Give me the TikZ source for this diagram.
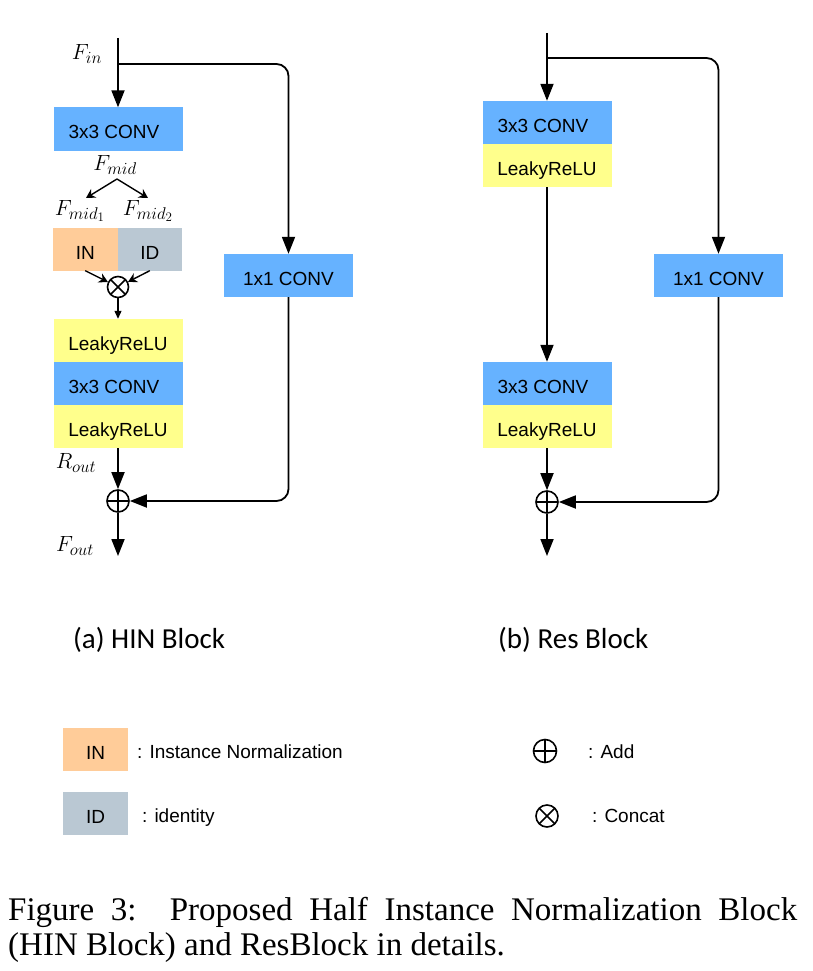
\RequirePackage{fix-cm}
\documentclass[tikz,border=0pt]{standalone}
\usepackage{fontspec}
\setmainfont{Liberation Serif}
\newfontfamily\boxfont{Liberation Sans}
\newfontfamily\capfont{Carlito}
\DeclareMathSizes{22}{22}{17}{13}
\usetikzlibrary{arrows.meta}
\definecolor{convblue}{HTML}{66B2FF}
\definecolor{reluyellow}{HTML}{FFFF8C}
\definecolor{inorange}{HTML}{FFCC99}
\definecolor{idgray}{HTML}{BAC8D3}
\begin{document}
\begin{tikzpicture}[x=1pt,y=-1pt,
  blk/.style={minimum width=129pt, minimum height=43pt, inner sep=0pt, text height=20pt, text depth=0pt, font=\boxfont\fontsize{19}{22}\selectfont},
  conv/.style={blk, fill=convblue},
  relu/.style={blk, fill=reluyellow},
  halfblk/.style={blk, minimum width=64.5pt},
  legblk/.style={blk, minimum width=65pt},
  legtxt/.style={anchor=base west, inner sep=0pt, font=\boxfont\fontsize{19}{22}\selectfont},
  mlabel/.style={inner sep=0pt, font=\fontsize{22}{26}\selectfont},
  mainarrow/.style={line width=1.8pt, -{Triangle[length=17pt,width=13pt]}},
  thinarrow/.style={line width=1.4pt, -{Stealth[length=9pt,width=10pt,inset=3pt]}},
  tinyarrow/.style={line width=1.1pt, -{Triangle[length=8pt,width=7pt]}},
  addsym/.style={circle, draw, line width=1.6pt, minimum size=22pt, inner sep=0pt,
    path picture={\draw[line width=1.6pt] (path picture bounding box.north) -- (path picture bounding box.south) (path picture bounding box.west) -- (path picture bounding box.east);}},
  catsym/.style={circle, draw, line width=1.6pt, minimum size=21pt, inner sep=0pt,
    path picture={\draw[line width=1.6pt] (path picture bounding box.north west) -- (path picture bounding box.south east) (path picture bounding box.north east) -- (path picture bounding box.south west);}},
  capt/.style={anchor=base west, inner sep=0pt, font=\capfont\fontsize{29}{33}\selectfont}
]
\useasboundingbox[fill=white] (0,0) rectangle (813,971);

% ---------- (a) HIN Block ----------
\coordinate (in1) at (118,38);
\coordinate (br1) at (118,64);
\node[conv] (c1) at (118,129) {3x3 CONV\hspace*{8pt}};
\node[mlabel] (fin) at (87,54) {$F_{in}$};
\node[mlabel] (fmid) at (115,165) {$F_{mid}$};
\coordinate (sp) at (117,179);
\coordinate (m1) at (86,198);
\coordinate (m2) at (148,198);
\node[mlabel] (fmid1) at (80,211) {$F_{mid_1}$};
\node[mlabel] (fmid2) at (148,211) {$F_{mid_2}$};
\node[halfblk, fill=inorange] (inb) at (85.25,249) {IN};
\node[halfblk, fill=idgray] (idb) at (149.75,249) {ID};
\node[catsym] (ot) at (118,287) {};
\node[relu] (l1) at (118,340.5) {LeakyReLU};
\node[conv] (c2) at (118,383.5) {3x3 CONV\hspace*{8pt}};
\node[relu] (l2) at (118,426.5) {LeakyReLU};
\node[mlabel] (rout) at (76,463) {$R_{out}$};
\node[addsym] (add1) at (118,501) {};
\node[mlabel] (fout) at (75,546) {$F_{out}$};
\coordinate (out1) at (118,556);
\node[conv] (c11) at (288.5,275.5) {1x1 CONV};

\draw[mainarrow] (in1) -- (c1.north);
\draw[mainarrow, rounded corners=12pt] (br1) -| (c11.north);
\draw[thinarrow] (sp) -- (m1);
\draw[thinarrow] (sp) -- (m2);
\draw[thinarrow] (inb.south) -- (ot);
\draw[thinarrow] (idb.south) -- (ot);
\draw[tinyarrow] (ot.south) -- (l1.north);
\draw[mainarrow] (l2.south) -- (add1.north);
\draw[mainarrow] (add1.south) -- (out1);
\draw[mainarrow, rounded corners=12pt] (c11.south) |- (add1.east);

% ---------- (b) Res Block ----------
\coordinate (in2) at (547,33);
\coordinate (br2) at (547,58);
\node[conv] (r1) at (547,122.5) {3x3 CONV\hspace*{8pt}};
\node[relu] (r2) at (547,165.5) {LeakyReLU};
\node[conv] (r3) at (547,383.5) {3x3 CONV\hspace*{8pt}};
\node[relu] (r4) at (547,426.5) {LeakyReLU};
\node[addsym] (add2) at (547,502) {};
\coordinate (out2) at (547,556);
\node[conv] (c12) at (718.5,275.5) {1x1 CONV};

\draw[mainarrow] (in2) -- (r1.north);
\draw[mainarrow, rounded corners=12pt] (br2) -| (c12.north);
\draw[mainarrow] (r2.south) -- (r3.north);
\draw[mainarrow] (r4.south) -- (add2.north);
\draw[mainarrow] (add2.south) -- (out2);
\draw[mainarrow, rounded corners=12pt] (c12.south) |- (add2.east);

% ---------- captions ----------
\node[capt] (capa) at (73,648) {(a) HIN Block};
\node[capt] (capb) at (498,648) {(b) Res Block};

% ---------- legend ----------
\node[legblk, fill=inorange] (legin) at (95.5,749.5) {IN};
\node[legtxt] (legintxt) at (137,758) {: Instance Normalization};
\node[legblk, fill=idgray] (legid) at (95.5,813.5) {ID};
\node[legtxt] (legidtxt) at (142,822) {: identity};
\node[addsym, minimum size=23pt] (legadd) at (545,751) {};
\node[legtxt] (legaddtxt) at (588,758) {: Add};
\node[catsym, minimum size=22pt] (legcat) at (547,816) {};
\node[legtxt] (legcattxt) at (592,822) {: Concat};

% ---------- figure caption ----------
\node[anchor=base west, inner sep=0pt, align=left, font=\fontsize{33}{35}\selectfont] (figcap) at (8,955)
  {\makebox[789pt][s]{Figure 3:\ \ Proposed Half Instance Normalization Block}\\(HIN Block) and ResBlock in details.};
\end{tikzpicture}
\end{document}
